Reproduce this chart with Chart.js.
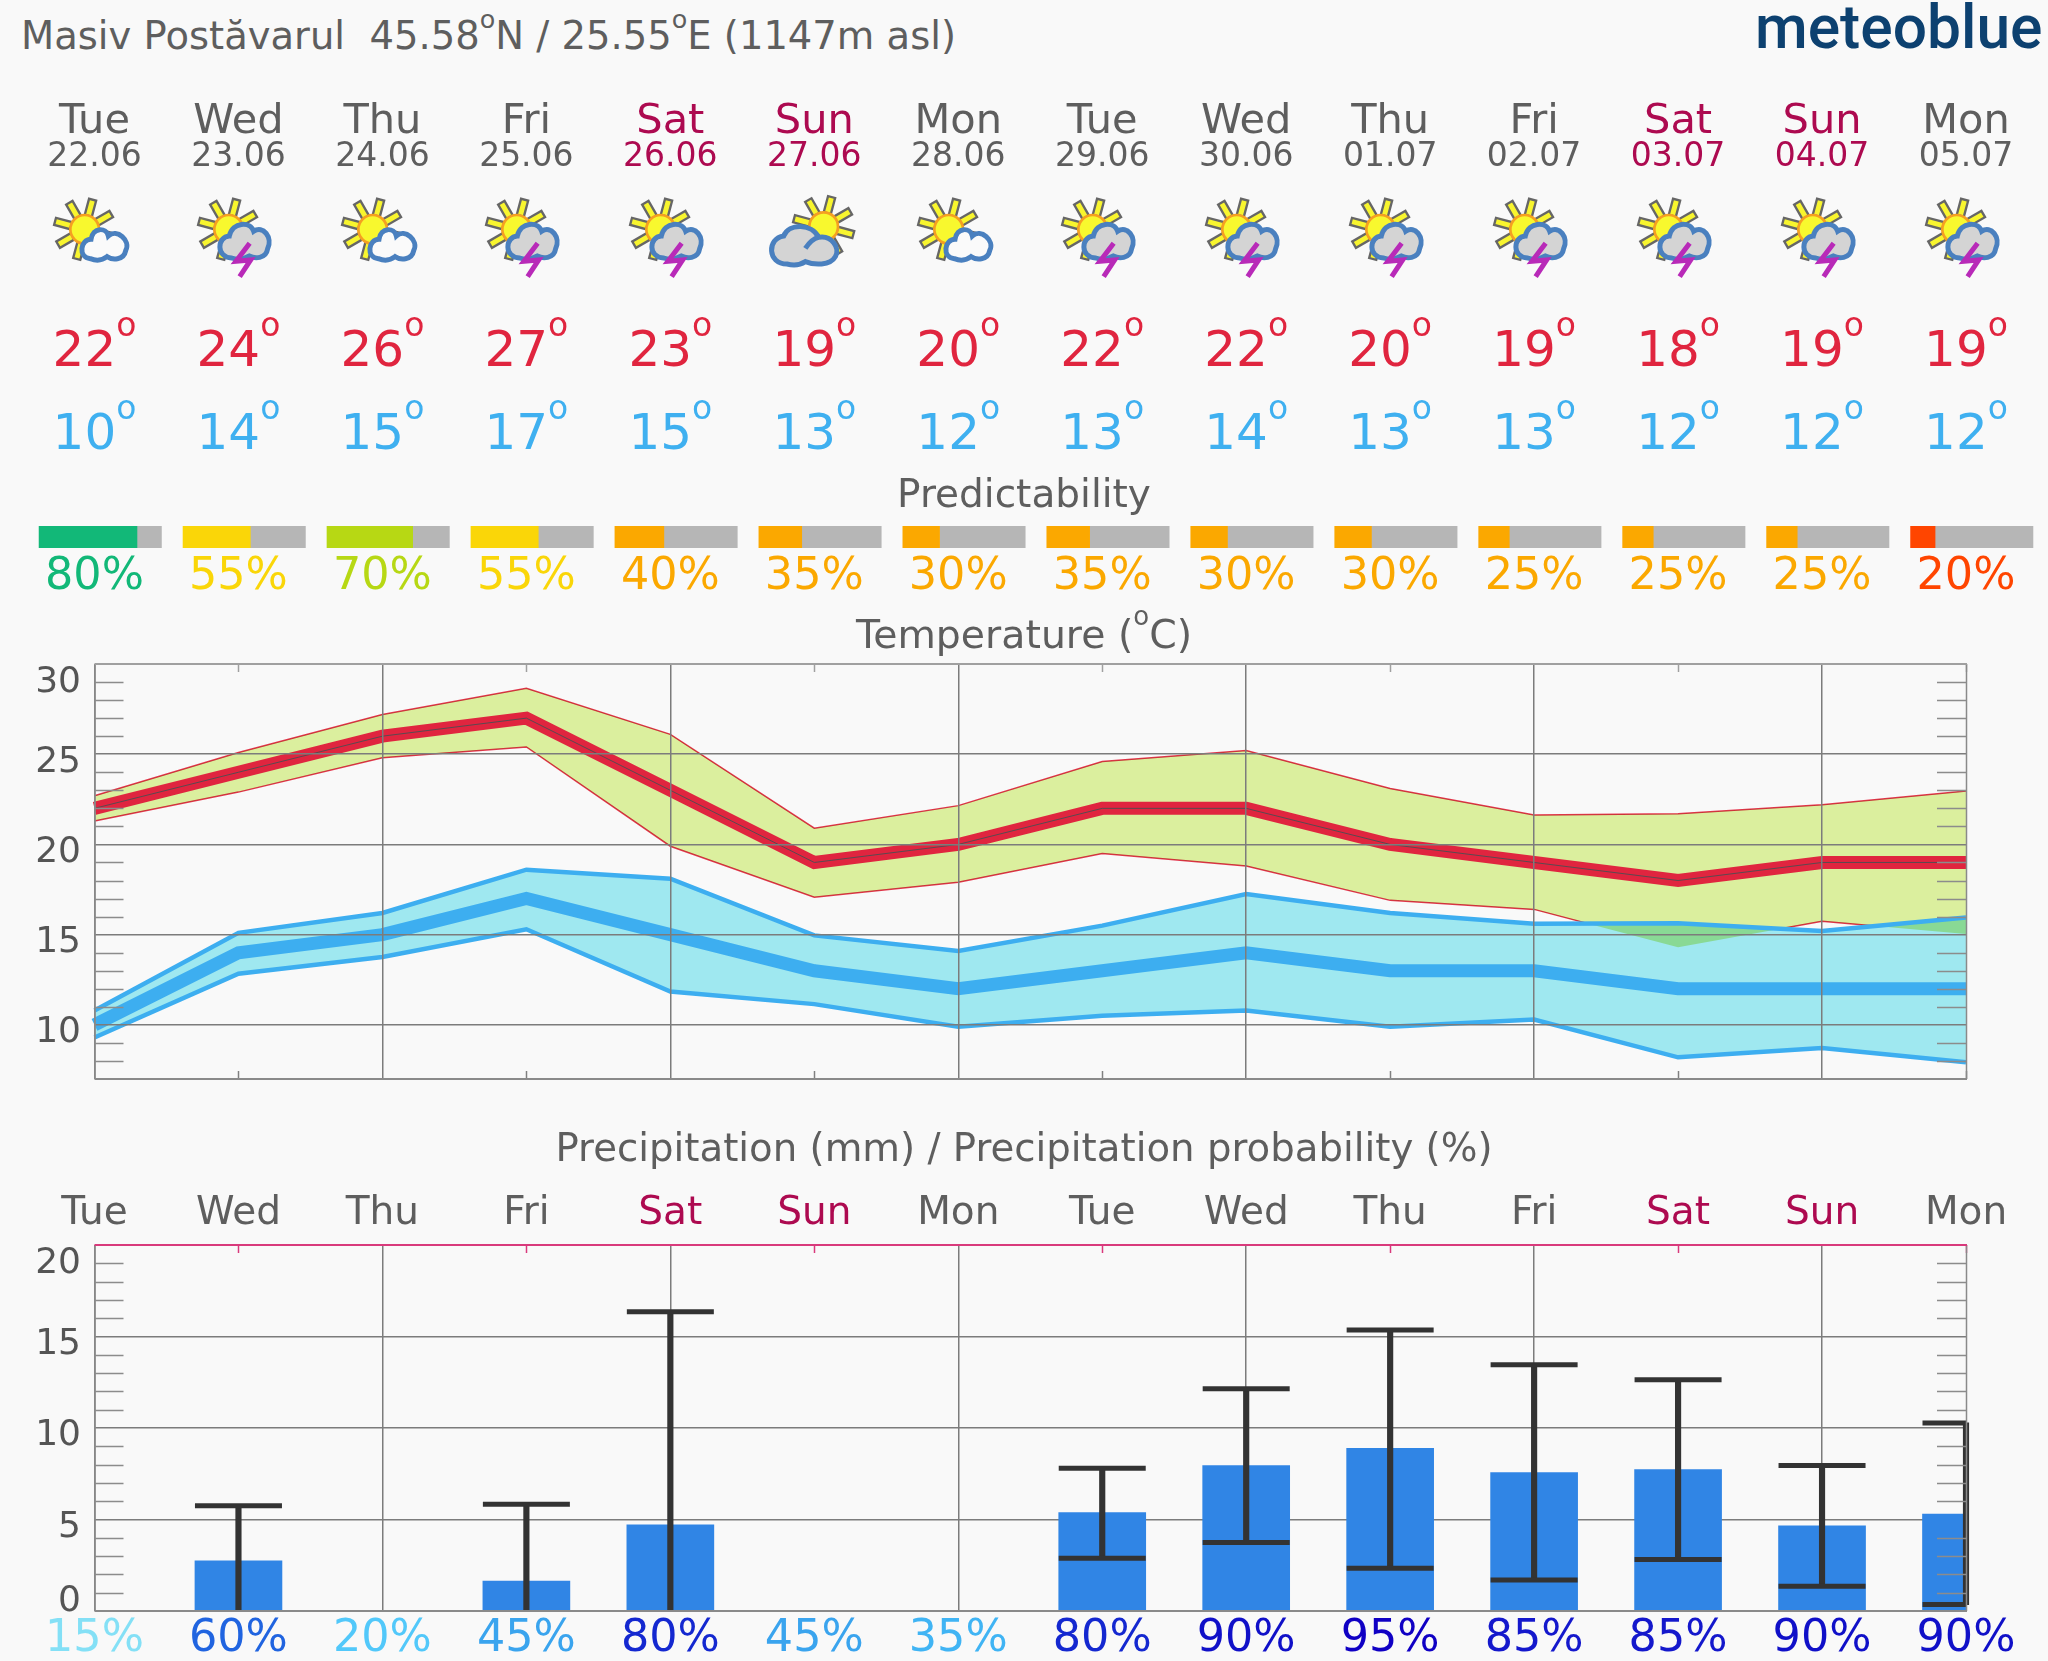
<!DOCTYPE html>
<html>
<head>
<meta charset="utf-8">
<title>meteoblue 14 day forecast</title>
<script src="https://cdn.jsdelivr.net/npm/chart.js@4"></script>
<style>
  html, body { margin: 0; padding: 0; background: #f9f9f9; }
  #page { position: relative; width: 2048px; height: 1661px; overflow: hidden; font-family: "DejaVu Sans", sans-serif; color: #5e5e5e; }
  #page canvas { position: absolute; left: 0; top: 0; }
  .t { position: absolute; white-space: pre; line-height: 1; transform: translate(-50%, -0.846em); }
  .sup { font-size: 0.66em; position: relative; top: -0.9em; line-height: 0; }
  #head { position: absolute; left: 21px; top: 12px; font-size: 38.5px; white-space: pre; line-height: 48px; }
  #head .sup { top: -0.82em; }
  #logo { position: absolute; left: 1755px; top: -8px; font: 500 60.5px Roboto, sans-serif; color: #0d4170; }
  svg.icon { position: absolute; top: 180px; width: 120px; height: 120px; }
</style>
</head>
<body>
<div id="page">
  <div id="head">Masiv Postăvarul  45.58<span class="sup">o</span>N / 25.55<span class="sup">o</span>E (1147m asl)</div>
  <div id="logo">meteoblue</div>
  <canvas id="strip" width="2048" height="1661"></canvas>
  <canvas id="temp" width="2048" height="1661"></canvas>
  <canvas id="rain" width="2048" height="1661"></canvas>
</div>
<script>
const days = ["Tue", "Wed", "Thu", "Fri", "Sat", "Sun", "Mon", "Tue", "Wed", "Thu", "Fri", "Sat", "Sun", "Mon"];
const dates = ["22.06", "23.06", "24.06", "25.06", "26.06", "27.06", "28.06", "29.06", "30.06", "01.07", "02.07", "03.07", "04.07", "05.07"];
const icons = ["sun", "storm", "sun", "storm", "storm", "cloud", "sun", "storm", "storm", "storm", "storm", "storm", "storm", "storm"];
const tempMax = [22, 24, 26, 27, 23, 19, 20, 22, 22, 20, 19, 18, 19, 19];
const tempMin = [10, 14, 15, 17, 15, 13, 12, 13, 14, 13, 13, 12, 12, 12];
const predictability = [80, 55, 70, 55, 40, 35, 30, 35, 30, 30, 25, 25, 25, 20];

const maxHigh = [22.7, 25.1, 27.2, 28.65, 26.1, 20.9, 22.15, 24.6, 25.2, 23.1, 21.63, 21.7, 22.2, 22.96];
const maxLow = [21.3, 22.9, 24.8, 25.4, 19.9, 17.07, 17.9, 19.5, 18.8, 16.9, 16.4, 14.3, 15.74, 15.04];
const minHigh = [10.8, 15.1, 16.2, 18.6, 18.1, 14.96, 14.1, 15.5, 17.25, 16.2, 15.6, 15.63, 15.2, 15.95];
const minLow = [9.3, 12.83, 13.76, 15.3, 11.85, 11.15, 9.9, 10.5, 10.8, 9.9, 10.3, 8.2, 8.72, 7.93];

const rainMean = [null, 2.74, null, 1.63, 4.71, null, null, 5.38, 7.94, 8.89, 7.56, 7.73, 4.66, 5.3];
const rainHigh = [null, 5.75, null, 5.84, 16.35, null, null, 7.8, 12.14, 15.36, 13.46, 12.64, 7.95, 10.28];
const rainLow = [null, null, null, null, null, null, null, 2.88, 3.74, 2.33, 1.7, 2.81, 1.35, 0.35];
const rainProb = [15, 60, 20, 45, 80, 45, 35, 80, 90, 95, 85, 85, 90, 90];

const tempTicks = [30, 25, 20, 15, 10];
const rainTicks = [20, 15, 10, 5, 0];

const predictColors = { 80: "#12b878", 70: "#b7d814", 55: "#fad608", 40: "#fba800", 35: "#fba800", 30: "#fba800", 25: "#fba800", 20: "#ff4500" };
const probColors = { 15: "#84e0f6", 20: "#52c8fa", 35: "#40b4f4", 45: "#3aa4ee", 60: "#2064e0", 80: "#1428d0", 85: "#1418cc", 90: "#1010c8", 95: "#1000c4" };

const LEFT = 94.5, RIGHT = 1966, STEP = (RIGHT - LEFT) / 13;
const GREY = "#5e5e5e", WEEKEND = "#ad0a50", RED = "#e0253f", BLUE = "#3fb0f0";
const page = document.getElementById("page");
const xAt = i => LEFT + i * STEP;

function text(str, x, baseline, size, color, sup) {
  const el = document.createElement("div");
  el.className = "t";
  el.style.left = x + "px";
  el.style.top = baseline + "px";
  el.style.fontSize = size + "px";
  el.style.color = color;
  el.textContent = str;
  if (sup) {
    const s = document.createElement("span");
    s.className = "sup";
    s.textContent = "o";
    el.appendChild(s);
  }
  page.appendChild(el);
  return el;
}

// sun, small cloud and thundercloud, sketched in 3x units around the sun centre
function sunShape(cx, cy) {
  let rays = "";
  for (let a = 15; a < 360; a += 45) {
    rays += `<rect x="-11" y="-92" width="22" height="50" transform="rotate(${a})" fill="#f8f52e" stroke="#666" stroke-width="7"/>`;
  }
  return `<g transform="translate(${cx} ${cy})">${rays}<circle r="43" fill="#f8f82e" stroke="#f5a021" stroke-width="8"/></g>`;
}
const smallCloud = "M20 88 C-18 84 -10 30 22 30 C28 -8 68 -6 74 20 C100 -4 142 34 126 64 C120 94 85 92 70 82 C55 94 35 94 20 88Z";
const stormCloud = "M12 86 C-36 84 -32 22 5 20 C15 -24 68 -24 78 6 C106 -14 136 25 120 58 C115 90 80 88 65 80 C45 92 30 92 12 86Z";
const bigCloud = "M-110 112 C-170 112 -170 35 -120 28 C-105 -12 -35 -10 -15 32 C25 25 50 65 35 90 C20 118 -30 115 -55 105 C-75 118 -95 116 -110 112Z M-55 65 C-45 50 -30 35 -15 32";

function iconSvg(kind, i) {
  let body = sunShape(0, 148);
  if (kind === "sun") {
    body += `<path transform="translate(-3 148)" d="${smallCloud}" fill="#fafafa" stroke="#4a80bf" stroke-width="15"/>`;
  } else if (kind === "storm") {
    body += `<path transform="translate(-3 148)" d="${stormCloud}" fill="#d4d4d4" stroke="#4a80bf" stroke-width="15"/>`;
    body += `<path transform="translate(0 148)" d="M63 42 L22 96 L66 92 L33 142" fill="none" stroke="#b82ab8" stroke-width="15"/>`;
  } else {
    body = sunShape(0, 140) + `<path transform="translate(0 140)" d="${bigCloud}" fill="#d4d4d4" stroke="#4a80bf" stroke-width="15"/>`;
  }
  const shift = kind === "cloud" ? 28 : -29;
  const svg = `<svg class="icon" style="left:${xAt(i) + shift / 3 - 72.7}px" viewBox="-218 0 360 360">${body}</svg>`;
  page.insertAdjacentHTML("beforeend", svg);
}

days.forEach((d, i) => {
  const wk = d === "Sat" || d === "Sun" ? WEEKEND : GREY;
  text(d, xAt(i), 132.5, 41.5, wk);
  text(dates[i], xAt(i), 166, 33, wk);
  iconSvg(icons[i], i);
  text(String(tempMax[i]), xAt(i), 365.5, 50, RED, true);
  text(String(tempMin[i]), xAt(i), 448.5, 50, BLUE, true);
  text(predictability[i] + "%", xAt(i), 590, 44.5, predictColors[predictability[i]]);
  text(d, xAt(i), 1224, 39, wk);
  text(rainProb[i] + "%", xAt(i), 1652, 44.5, probColors[rainProb[i]]);
});
text("Predictability", 1024, 507, 39, GREY);
const tempTitle = text("Temperature (", 1024, 648, 39.4, GREY);
tempTitle.innerHTML = 'Temperature (<span class="sup">o</span>C)';
text("Precipitation (mm) / Precipitation probability (%)", 1024, 1162, 38.7, GREY);

Chart.defaults.font.family = '"DejaVu Sans", sans-serif';
Chart.defaults.animation = false;

// page-level plot frame: borders, inner minor ticks and the y labels
const frame = {
  id: "frame",
  afterDraw(chart, args, o) {
    if (!o.labels) return;
    const { ctx, chartArea: a, scales: { x, y } } = chart;
    ctx.save();
    ctx.lineWidth = 1.5;
    ctx.strokeStyle = "#8c8c8c";
    for (let v = y.min + 1; v < y.max; v++) {
      if (v % 5 === 0) continue;
      const p = Math.round(y.getPixelForValue(v)) + 0.5;
      ctx.beginPath();
      ctx.moveTo(a.left, p); ctx.lineTo(a.left + 29, p);
      ctx.moveTo(a.right - 29, p); ctx.lineTo(a.right, p);
      ctx.stroke();
    }
    ctx.strokeStyle = o.top;
    for (let i = 1; i < x.ticks.length; i += 2) {
      const p = Math.round(x.getPixelForTick(i)) + 0.5;
      ctx.beginPath();
      ctx.moveTo(p, a.top); ctx.lineTo(p, a.top + 8);
      ctx.stroke();
      if (o.bottomTicks) {
        ctx.strokeStyle = "#808080";
        ctx.beginPath();
        ctx.moveTo(p, a.bottom); ctx.lineTo(p, a.bottom - 8);
        ctx.stroke();
        ctx.strokeStyle = o.top;
      }
    }
    ctx.lineWidth = 1.5;
    ctx.strokeStyle = "#8a8a8a";
    ctx.beginPath();
    ctx.moveTo(a.left + 0.5, a.top); ctx.lineTo(a.left + 0.5, a.bottom);
    ctx.moveTo(a.right + 0.5, a.top); ctx.lineTo(a.right + 0.5, a.bottom);
    ctx.stroke();
    ctx.lineWidth = 2;
    ctx.strokeStyle = o.top;
    ctx.beginPath();
    ctx.moveTo(a.left, a.top); ctx.lineTo(a.right + 1, a.top);
    ctx.stroke();
    ctx.strokeStyle = "#8a8a8a";
    ctx.beginPath();
    ctx.moveTo(a.left, a.bottom); ctx.lineTo(a.right + 1, a.bottom);
    ctx.stroke();
    ctx.fillStyle = "#555";
    ctx.font = '36px "DejaVu Sans", sans-serif';
    ctx.textAlign = "right";
    ctx.textBaseline = "middle";
    o.labels.forEach(v => {
      let nudge = 8;
      if (v === y.max) nudge = 19;
      if (v === y.min) nudge = -9;
      ctx.fillText(String(v), 81, y.getPixelForValue(v) + nudge);
    });
    ctx.restore();
  }
};

// the green band multiplies onto the blue one, the filler has no option for that
const multiplyBand = {
  id: "multiplyBand",
  afterDatasetDraw(chart, args, o) {
    if (args.index === o.before) chart.ctx.globalCompositeOperation = "multiply";
  },
  beforeDatasetDraw(chart, args, o) {
    if (args.index === o.band) chart.ctx.globalCompositeOperation = "source-over";
  }
};

function axes(labels, yMin, yMax) {
  return {
    x: {
      type: "category", labels: labels, offset: false,
      border: { display: false },
      grid: { offset: false, drawTicks: false, lineWidth: 1.5, color: c => c.index % 2 === 0 ? "#7c7c7c" : "transparent" },
      ticks: { display: false, autoSkip: false }
    },
    y: {
      min: yMin, max: yMax,
      border: { display: false },
      grid: { drawTicks: false, lineWidth: 1.5, color: c => c.tick.value % 5 === 0 ? "#7c7c7c" : "transparent" },
      ticks: { display: false, stepSize: 1, autoSkip: false }
    }
  };
}

const line = (data, color, width, extra) => Object.assign({
  type: "line", data: data, borderColor: color, borderWidth: width, pointRadius: 0, tension: 0, fill: false, borderJoinStyle: "miter"
}, extra);

// datasets paint from the last to the first
const tempScales = axes(days.map((d, i) => i), 7, 30);
tempScales.x.grid.z = 1;
tempScales.y.grid.z = 1;
new Chart(document.getElementById("temp"), {
  type: "line",
  data: {
    datasets: [
      line(tempMax, "#5a4a50", 1),
      line(tempMax, RED, 13),
      line(tempMin, "#3daef0", 13),
      line(minHigh, "#3daef0", 4.5),
      line(minLow, "#3daef0", 4.5),
      line(maxHigh, "transparent", 0, { fill: "+1", backgroundColor: "#dbef9e" }),
      line(maxLow, "transparent", 0),
      line(minHigh, "transparent", 0, { fill: "+1", backgroundColor: "#9fe8f0" }),
      line(minLow, "transparent", 0),
      line(maxHigh, "#e5364f", 1.5),
      line(maxLow, "#e5364f", 1.5)
    ]
  },
  options: {
    responsive: false,
    layout: { padding: { left: LEFT, right: 2048 - RIGHT, top: 664, bottom: 1661 - 1079 } },
    scales: tempScales,
    plugins: {
      legend: { display: false }, tooltip: { enabled: false },
      frame: { labels: tempTicks, top: "#a0a0a0", bottomTicks: true },
      multiplyBand: { before: 6, band: 5 }
    }
  },
  plugins: [multiplyBand, frame]
});

new Chart(document.getElementById("rain"), {
  type: "bar",
  data: {
    datasets: [
      line(rainHigh, "#333", 0, { showLine: false, pointStyle: "line", pointRadius: 43.5, pointBorderWidth: 5, pointBorderColor: "#333", clip: 0 }),
      line(rainLow, "#333", 0, { showLine: false, pointStyle: "line", pointRadius: 43.5, pointBorderWidth: 5, pointBorderColor: "#333", clip: 0 }),
      { type: "bar", data: rainHigh.map((h, i) => h === null ? null : [rainLow[i] === null ? 0 : rainLow[i], h]), backgroundColor: "#333", barThickness: 5.5, grouped: false, clip: false },
      { type: "bar", data: rainMean, backgroundColor: "#3085e5", barThickness: 87, grouped: false }
    ]
  },
  options: {
    responsive: false,
    layout: { padding: { left: LEFT, right: 2048 - RIGHT, top: 1245, bottom: 1661 - 1611 } },
    scales: axes(days.map((d, i) => i), 0, 20),
    plugins: {
      legend: { display: false }, tooltip: { enabled: false },
      frame: { labels: rainTicks, top: "#d93a7c", bottomTicks: false }
    }
  },
  plugins: [frame]
});

// predictability strip: one row on a linear day axis, coloured share then the grey rest
const stripDatasets = [];
predictability.forEach((p, i) => {
  const from = i - 0.385, to = i + 0.465, split = from + (to - from) * p / 100;
  stripDatasets.push({ data: [[from, split]], backgroundColor: predictColors[p], grouped: false, barPercentage: 1, categoryPercentage: 1 });
  stripDatasets.push({ data: [[split, to]], backgroundColor: "#b6b6b6", grouped: false, barPercentage: 1, categoryPercentage: 1 });
});
new Chart(document.getElementById("strip"), {
  type: "bar",
  data: { labels: ["predictability"], datasets: stripDatasets },
  options: {
    responsive: false,
    indexAxis: "y",
    layout: { padding: { left: 0, right: 0, top: 526, bottom: 1661 - 548 } },
    scales: {
      x: { type: "linear", min: -LEFT / STEP, max: (2048 - LEFT) / STEP, display: false },
      y: { display: false }
    },
    plugins: { legend: { display: false }, tooltip: { enabled: false } }
  }
});
</script>
</body>
</html>
